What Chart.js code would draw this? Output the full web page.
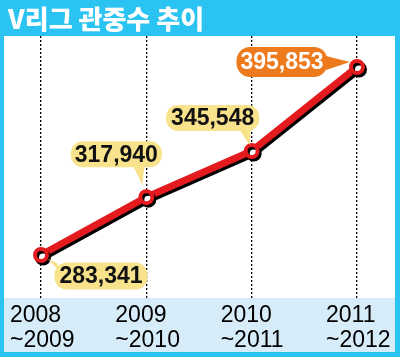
<!DOCTYPE html>
<html><head><meta charset="utf-8">
<script src="https://cdn.jsdelivr.net/npm/chart.js@4/dist/chart.umd.min.js"></script>
<style>html,body{margin:0;padding:0;background:#fff}#wrap{width:400px;height:357px}</style>
</head><body><div id="wrap"><canvas id="c" width="400" height="357"></canvas></div>
<script>
const titleText = "V리그 관중수 추이";
const categories = [["2008", "~2009"], ["2009", "~2010"], ["2010", "~2011"], ["2011", "~2012"]];
const attendance = [283341, 317940, 345548, 395853];
const valueLabels = ["283,341", "317,940", "345,548", "395,853"];

// label box placement (style): offset of box centre from point, width, height, tail polygon offsets
const boxStyle = [
  {dx: 60, dy: 21, w: 93, h: 27, fill: "#F8E28C", color: "#111", tail: [[-44,-13],[-40,-3],[-53,-17]]},
  {dx: -30, dy: -43, w: 91, h: 26, fill: "#F8E28C", color: "#111", tail: [[17,12],[28,12],[26,31]]},
  {dx: -39, dy: -33, w: 93, h: 26, fill: "#F8E28C", color: "#111", tail: [[27,12],[38,12],[37,27]]},
  {dx: -75, dy: -5, w: 91, h: 30, fill: "#EE7A1E", color: "#fff", tail: [[44,-6],[44,8],[68,0]]}
];

const bgPlugin = {
  id: 'bg',
  beforeDraw(chart) {
    const ctx = chart.ctx;
    ctx.save();
    ctx.fillStyle = '#2BC4F2';
    ctx.fillRect(0, 0, 400, 357);
    ctx.fillStyle = '#ffffff';
    ctx.fillRect(4, 36, 391, 262);
    ctx.fillStyle = '#D6ECF8';
    ctx.fillRect(4, 298, 391, 54);
    ctx.fillStyle = '#ffffff';
    ctx.font = '900 26px "Noto Sans CJK KR", sans-serif';
    ctx.textBaseline = 'middle';
    ctx.fillText(titleText, 8, 19);
    ctx.restore();
  }
};

const shadowPlugin = {
  id: 'shadow',
  beforeDatasetDraw(chart) {
    const ctx = chart.ctx;
    ctx.save();
    ctx.shadowColor = '#000';
    ctx.shadowOffsetX = 2;
    ctx.shadowOffsetY = 2.5;
    ctx.shadowBlur = 0;
  },
  afterDatasetDraw(chart) {
    chart.ctx.restore();
  }
};

const labelPlugin = {
  id: 'boxes',
  afterDatasetsDraw(chart) {
    const ctx = chart.ctx;
    const meta = chart.getDatasetMeta(0);
    meta.data.forEach((pt, i) => {
      const s = boxStyle[i];
      const cx = pt.x + s.dx, cy = pt.y + s.dy;
      ctx.save();
      ctx.fillStyle = s.fill;
      ctx.beginPath();
      ctx.roundRect(cx - s.w/2, cy - s.h/2, s.w, s.h, s.h/2.2);
      ctx.fill();
      ctx.beginPath();
      ctx.moveTo(cx + s.tail[0][0], cy + s.tail[0][1]);
      ctx.lineTo(cx + s.tail[1][0], cy + s.tail[1][1]);
      ctx.lineTo(cx + s.tail[2][0], cy + s.tail[2][1]);
      ctx.closePath();
      ctx.fill();
      ctx.fillStyle = s.color;
      ctx.font = 'bold 23px "Liberation Sans Narrow", "Liberation Sans", sans-serif';
      ctx.textAlign = 'center';
      ctx.textBaseline = 'middle';
      ctx.fillText(valueLabels[i], cx, cy + 1);
      ctx.restore();
    });
  }
};

new Chart(document.getElementById('c'), {
  type: 'line',
  data: {
    labels: categories,
    datasets: [{
      data: attendance,
      borderColor: '#E31B1F',
      borderWidth: 7,
      pointRadius: 6,
      pointBorderWidth: 4,
      pointBackgroundColor: '#ffffff',
      pointBorderColor: '#E31B1F',
      tension: 0,
      clip: false
    }]
  },
  options: {
    responsive: false,
    animation: false,
    devicePixelRatio: 1,
    layout: {padding: {left: 41, right: 43, top: 36, bottom: 0}},
    plugins: {legend: {display: false}, tooltip: {enabled: false}, title: {display: false}},
    scales: {
      x: {
        offset: false,
        grid: {display: true, color: '#000', lineWidth: 1.3, drawTicks: false, drawOnChartArea: true},
        border: {display: false, dash: [2, 2]},
        ticks: {color: '#000', font: {family: '"Liberation Sans", sans-serif', size: 23, lineHeight: 1.05}, padding: 6, maxRotation: 0, autoSkip: false, align: 'start', labelOffset: -31},
        afterFit(scale) { scale.height = 59; scale.paddingLeft = 0; scale.paddingRight = 0; }
      },
      y: {display: false, min: 257607, max: 414406}
    }
  },
  plugins: [bgPlugin, shadowPlugin, labelPlugin]
});
</script></body></html>
